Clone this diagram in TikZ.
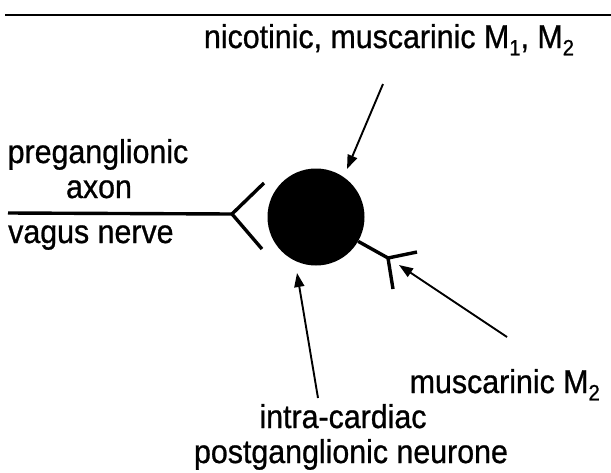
\documentclass[tikz,border=0pt]{standalone}
\usepackage{fontspec}
\setmainfont{Liberation Sans}[FakeStretch=0.92,FakeBold=0.8]
\usetikzlibrary{arrows.meta}
\newcommand{\lowsub}[1]{\raisebox{-0.22em}{\fontsize{22}{22}\selectfont #1}}
\begin{document}
\begin{tikzpicture}[x=1pt,y=-1pt,
  lbl/.style={font=\fontsize{33}{36}\selectfont, inner sep=0pt, anchor=base},
  nerve/.style={line width=3.4pt},
  ptr/.style={line width=1.9pt, -{Triangle[length=14pt,width=10pt]}}]
\useasboundingbox (0,0) rectangle (611,472);
\draw[line width=2.2pt] (5,15) -- (611,15);
% neurone
\node[circle, fill=black, minimum size=97pt, inner sep=0pt] (cell) at (316,217) {};
% preganglionic axon with fork
\coordinate (a0) at (8,213);
\coordinate (fj) at (232,214);
\coordinate (fu) at (264,183);
\coordinate (fl) at (262,249);
\draw[nerve] (a0) -- (fj);
\draw[nerve] (fu) -- (fj) -- (fl);
% output axon with receptor fork
\coordinate (oj) at (388,258);
\coordinate (ou) at (417,252);
\coordinate (ol) at (393,289);
\draw[nerve] (cell.-30) -- (oj);
\draw[nerve] (ou) -- (oj) -- (ol);
% labels
\node[lbl] (top) at (389,48) {nicotinic, muscarinic M\lowsub{1}, M\lowsub{2}};
\node[lbl] (pre) at (98,163) {preganglionic};
\node[lbl] (axon) at (99,198) {axon};
\node[lbl, anchor=base west] (vag) at (8,243) {vagus nerve};
\node[lbl, anchor=base east] (m2) at (600,393) {muscarinic M\lowsub{2}};
\node[lbl] (intra) at (343,428) {intra-cardiac};
\node[lbl] (post) at (351,463) {postganglionic neurone};
% pointers
\coordinate (t1) at (347,169);
\coordinate (t2) at (297,273);
\coordinate (t3) at (399,265);
\draw[ptr] (383,84) -- (t1);
\draw[ptr] (318,398) -- (t2);
\draw[ptr] (507,337) -- (t3);
\end{tikzpicture}
\end{document}
